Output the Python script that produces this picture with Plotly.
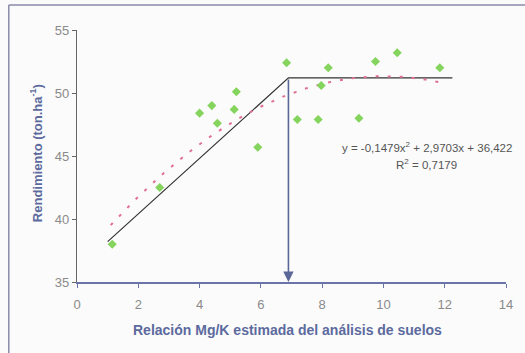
import plotly.graph_objects as go
import numpy as np

# Observed points (Mg/K ratio vs yield)
mgk = [1.15, 2.7, 4.0, 4.4, 4.58, 5.13, 5.2, 5.9, 6.84, 7.19, 7.87, 7.97, 8.2, 9.2, 9.74, 10.45, 11.84]
rend = [38.0, 42.5, 48.4, 49.0, 47.6, 48.7, 50.1, 45.7, 52.4, 47.9, 47.9, 50.6, 52.0, 48.0, 52.5, 53.2, 52.0]

# Linear-plateau model
lp_x = [1.0, 6.9, 12.25]
lp_y = [38.2, 51.2, 51.2]

# Quadratic fit shown in the chart
coef_a, coef_b, coef_c = -0.1479, 2.9703, 36.422
quad_xrange = [1.1, 11.9]

x_ticks = [0, 2, 4, 6, 8, 10, 12, 14]
y_ticks = [35, 40, 45, 50, 55]

qx = np.linspace(quad_xrange[0], quad_xrange[1], 100)
qy = coef_a * qx**2 + coef_b * qx + coef_c

FONT = "Liberation Sans, Arial, sans-serif"
TITLE_COLOR = "#5C6A9E"

fig = go.Figure()
fig.add_trace(go.Scatter(x=lp_x, y=lp_y, mode="lines",
                         line=dict(color="#333333", width=1.2), hoverinfo="skip"))
fig.add_trace(go.Scatter(x=qx, y=qy, mode="lines",
                         line=dict(color="#E07090", width=2, dash="3px,9px"), hoverinfo="skip"))
fig.add_trace(go.Scatter(x=mgk, y=rend, mode="markers",
                         marker=dict(symbol="diamond", size=7, color="#84D45E")))

# vertical arrow at the plateau break
fig.add_annotation(x=lp_x[1], y=35, ax=lp_x[1], ay=lp_y[1], xref="x", yref="y",
                   axref="x", ayref="y", showarrow=True, arrowhead=2, arrowsize=1.3,
                   arrowwidth=1.6, arrowcolor="#5B6796", text="")

fig.add_annotation(x=11.42, y=45.7, xref="x", yref="y", showarrow=False,
                   text="y = -0,1479x<sup>2</sup> + 2,9703x + 36,422",
                   font=dict(family=FONT, size=11.5, color="#555555"))
fig.add_annotation(x=11.42, y=44.4, xref="x", yref="y", showarrow=False,
                   text="R<sup>2</sup> = 0,7179",
                   font=dict(family=FONT, size=11.5, color="#555555"))

# axis titles
fig.add_annotation(x=-0.094, y=0.51, xref="paper", yref="paper", showarrow=False,
                   xanchor="center", yanchor="middle",
                   textangle=-90, text="<b>Rendimiento (ton.ha<sup>-1</sup>)</b>",
                   font=dict(family=FONT, size=13, color=TITLE_COLOR))
fig.add_annotation(x=0.49, y=-0.19, xref="paper", yref="paper", showarrow=False,
                   xanchor="center", yanchor="middle",
                   text="<b>Relación Mg/K estimada del análisis de suelos</b>",
                   font=dict(family=FONT, size=14, color=TITLE_COLOR))

# outer frame (left and top edges visible)
fig.add_shape(type="line", xref="paper", yref="paper", x0=-0.159, x1=-0.159, y0=-0.3, y1=1.0992,
              line=dict(color="#8A8AAA", width=1.5))
fig.add_shape(type="line", xref="paper", yref="paper", x0=-0.159, x1=1.1, y0=1.0992, y1=1.0992,
              line=dict(color="#8A8AAA", width=1.5))

fig.update_layout(
    width=525, height=353,
    margin=dict(l=77, r=14, t=30, b=71),
    paper_bgcolor="#FBFBFB", plot_bgcolor="#FBFBFB",
    showlegend=False,
    font=dict(family=FONT),
)
fig.update_xaxes(range=[0, 14], tickvals=x_ticks, showgrid=False, zeroline=False,
                 showline=True, linecolor="#6B74A8", linewidth=1.5,
                 ticks="outside", ticklen=4, tickcolor="#6B74A8", ticklabelstandoff=6,
                 tickfont=dict(family=FONT, size=13, color="#8A8A8A"))
fig.update_yaxes(range=[35, 55], tickvals=y_ticks, showgrid=False, zeroline=False,
                 showline=True, linecolor="#666666", linewidth=1.2,
                 ticks="outside", ticklen=4, tickcolor="#666666",
                 tickfont=dict(family=FONT, size=13, color="#8A8A8A"))

fig.write_html("out.html")
